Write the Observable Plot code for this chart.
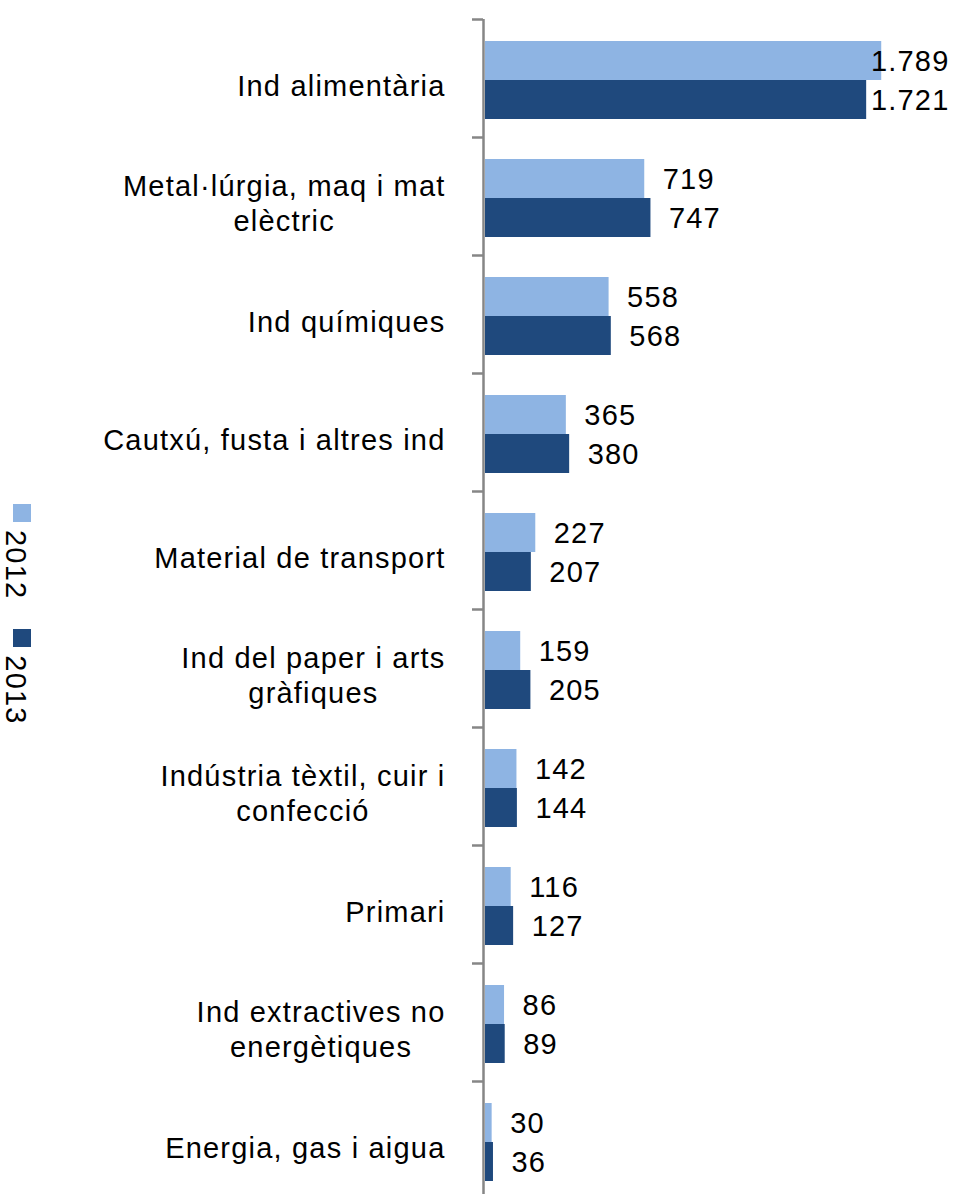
<!DOCTYPE html>
<html><head><meta charset="utf-8">
<script src="https://cdn.jsdelivr.net/npm/d3@7"></script>
<script src="https://cdn.jsdelivr.net/npm/@observablehq/plot@0.6"></script>
<style>
body{margin:0;background:#fff;}
#wrap{position:relative;width:964px;height:1194px;overflow:hidden;font-family:"Liberation Sans",Arial,sans-serif;}
#chart{position:absolute;left:0;top:0;}
#legend{position:absolute;left:32px;top:504px;transform:rotate(90deg);transform-origin:0 0;}
.lg-swatches{margin:0 !important;}
.lg-swatch > svg{margin-right:8px !important;transform:translateY(-7px);}
.lg-swatches-wrap .lg-swatch{margin-right:30px !important;}
</style></head><body><div id="wrap"><div id="chart"></div><div id="legend"></div></div>
<script>
const categories = [
  "Ind alimentària",
  "Metal·lúrgia, maq i mat\nelèctric",
  "Ind químiques",
  "Cautxú, fusta i altres ind",
  "Material de transport",
  "Ind del paper i arts\ngràfiques",
  "Indústria tèxtil, cuir i\nconfecció",
  "Primari",
  "Ind extractives no\nenergètiques",
  "Energia, gas i aigua"
];
const years = ["2012", "2013"];
const values2012 = [1789, 719, 558, 365, 227, 159, 142, 116, 86, 30];
const values2013 = [1721, 747, 568, 380, 207, 205, 144, 127, 89, 36];
const colors = ["#8EB4E3", "#1F497D"];

const data = categories.flatMap((c, i) => [
  {category: c, year: years[0], value: values2012[i]},
  {category: c, year: years[1], value: values2013[i]}
]);

const W = 964, H = 1194, ML = 485, MR = 15, MT = 19, MB = -5;
const xMax = 2095;
const k = (W - ML - MR) / xMax;
const FS = 29, LS = 1.2;
const font = '"Liberation Sans", Arial, sans-serif';
const ctx = document.createElement("canvas").getContext("2d");
ctx.font = `${FS}px "Liberation Sans"`;
const textWidth = s => d3.max(s.split("\n"), line => ctx.measureText(line).width + LS * line.length);
const loc = d3.formatLocale({decimal: ",", thousands: ".", grouping: [3], currency: ["", "€"]});
const fmt = loc.format(",d");
const labelGap = 18;
const fits = d => ML + d.value * k + labelGap + textWidth(fmt(d.value)) <= W - MR;
const band = (H - MT - MB) / categories.length;

const plot = Plot.plot({
  width: W, height: H,
  marginLeft: ML, marginRight: MR, marginTop: MT, marginBottom: MB,
  style: {fontFamily: font, fontSize: FS + "px", letterSpacing: LS + "px", color: "#000", background: "#fff"},
  x: {domain: [0, xMax], axis: null},
  y: {domain: years, axis: null, paddingInner: 0, paddingOuter: 0.5, align: 0.55},
  fy: {domain: categories, padding: 0, label: null},
  color: {domain: years, range: colors},
  marks: [
    Plot.barX(data, {fy: "category", y: "year", x: "value", fill: "year"}),
    Plot.ruleX([0], {stroke: "#868686", strokeWidth: 2.5, dx: -2}),
    Plot.axisFy({anchor: "left", tickSize: 11, tickFormat: () => "", stroke: "#868686", strokeWidth: 2.5, dx: -2, dy: -band / 2, label: null}),
    Plot.text(categories, {fy: d => d, x: d => -(40 + textWidth(d) / 2) / k, text: d => d,
      textAnchor: "middle", lineAnchor: "middle", lineHeight: 1.2, dy: 6, fontSize: FS, fill: "#000"}),
    Plot.text(data.filter(fits), {fy: "category", y: "year", x: "value", text: d => fmt(d.value),
      dx: labelGap, dy: 1, textAnchor: "start", fontSize: FS, fill: "#000"}),
    Plot.text(data.filter(d => !fits(d)), {fy: "category", y: "year", x: () => xMax, text: d => fmt(d.value),
      dy: 1, textAnchor: "end", fontSize: FS, fill: "#000"})
  ]
});
document.getElementById("chart").appendChild(plot);

const legend = plot.legend("color", {swatchSize: 18, className: "lg",
  style: {fontFamily: font, fontSize: FS + "px", letterSpacing: LS + "px", color: "#000"}});
document.getElementById("legend").appendChild(legend);
</script>
</body></html>
